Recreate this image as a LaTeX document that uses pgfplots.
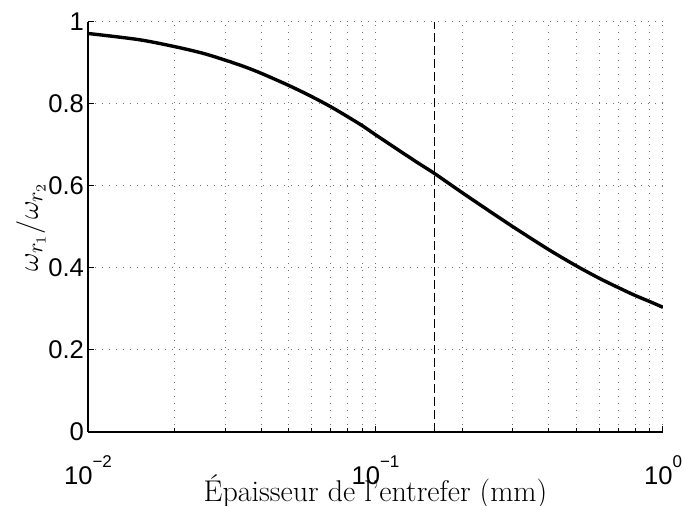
\documentclass[border=0pt]{standalone}
\usepackage{fontspec}
\usepackage{pgfplots}
\pgfplotsset{compat=1.18}
\usetikzlibrary{calc}
\newfontfamily\helv{Liberation Sans}
\newcommand{\pw}[1]{10\raisebox{0.66em}{\fontsize{8.5}{8.5}\selectfont #1}}

\begin{document}
\begin{tikzpicture}
\begin{axis}[
    name=ax,
    scale only axis,
    width=287.5pt, height=205pt,
    xmode=log,
    xmin=0.01, xmax=1,
    ymin=0, ymax=1,
    axis lines*=left,
    axis line style={line width=0.6pt},
    tick align=inside,
    major tick length=3pt,
    minor tick length=1.8pt,
    every tick/.style={black, line width=0.5pt},
    xtick={0.01,0.1,1},
    xticklabels={\pw{−2},\pw{−1},\pw{0}},
    minor xtick={0.02,0.03,0.04,0.05,0.06,0.07,0.08,0.09,0.2,0.3,0.4,0.5,0.6,0.7,0.8,0.9},
    ytick={0,0.2,0.4,0.6,0.8,1},
    yticklabels={0,0.2,0.4,0.6,0.8,1},
    tick label style={font=\helv\fontsize{12.8}{14}\selectfont},
    xticklabel style={yshift=-8.5pt},
    yticklabel style={xshift=1.5pt},
    xmajorgrids, xminorgrids, ymajorgrids,
    grid style={black!55, line width=0.5pt, dash pattern=on 0.5pt off 3pt},
    xlabel={Épaisseur de l'entrefer (mm)},
    ylabel={$\omega_{r_1}/\omega_{r_2}$},
    label style={font=\fontsize{15}{17}\selectfont},
    xlabel style={yshift=12pt},
    ylabel style={yshift=-5.5pt},
]
\addplot[black, line width=1.7pt, smooth] coordinates {
    (0.010,0.972)(0.015,0.957)(0.020,0.940)(0.025,0.924)(0.030,0.907)
    (0.035,0.891)(0.040,0.875)(0.050,0.845)(0.060,0.818)(0.070,0.793)
    (0.080,0.769)(0.090,0.747)(0.100,0.725)(0.120,0.688)(0.140,0.657)
    (0.160,0.631)(0.200,0.584)(0.250,0.538)(0.300,0.501)(0.400,0.445)
    (0.500,0.405)(0.600,0.375)(0.700,0.352)(0.800,0.333)(0.900,0.318)
    (1.000,0.304)
};
\addplot[black, line width=0.6pt, dash pattern=on 4.5pt off 2pt] coordinates {
    (0.16,0)(0.16,1)
};
\end{axis}
\pgfresetboundingbox
\path ($(ax.south west)+(-44pt,-37pt)$) rectangle ($(ax.north east)+(11pt,11pt)$);
\end{tikzpicture}
\end{document}
